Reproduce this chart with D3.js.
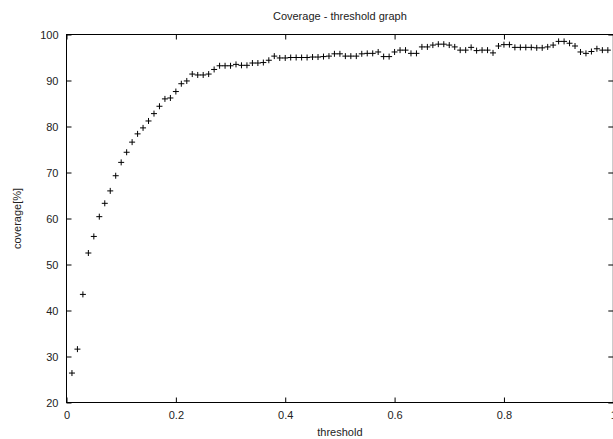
<html>
<head>
<script src="https://d3js.org/d3.v7.min.js"></script>
<style>
  body { margin: 0; background: #fff; }
  text { font-family: "Liberation Sans", Arial, sans-serif; fill: #222; }
</style>
</head>
<body>
<svg width="613" height="439"></svg>
<script>
const thresholds = [0.01,0.02,0.03,0.04,0.05,0.06,0.07,0.08,0.09,0.10,
  0.11,0.12,0.13,0.14,0.15,0.16,0.17,0.18,0.19,0.20,
  0.21,0.22,0.23,0.24,0.25,0.26,0.27,0.28,0.29,0.30,
  0.31,0.32,0.33,0.34,0.35,0.36,0.37,0.38,0.39,0.40,
  0.41,0.42,0.43,0.44,0.45,0.46,0.47,0.48,0.49,0.50,
  0.51,0.52,0.53,0.54,0.55,0.56,0.57,0.58,0.59,0.60,
  0.61,0.62,0.63,0.64,0.65,0.66,0.67,0.68,0.69,0.70,
  0.71,0.72,0.73,0.74,0.75,0.76,0.77,0.78,0.79,0.80,
  0.81,0.82,0.83,0.84,0.85,0.86,0.87,0.88,0.89,0.90,
  0.91,0.92,0.93,0.94,0.95,0.96,0.97,0.98,0.99]
const coverage = [26.4,31.6,43.5,52.5,56.1,60.4,63.3,66.0,69.3,72.2,
  74.4,76.6,78.4,79.7,81.2,82.8,84.4,86.0,86.2,87.6,
  89.3,89.9,91.4,91.2,91.2,91.4,92.4,93.2,93.2,93.2,
  93.5,93.3,93.3,93.8,93.8,93.9,94.4,95.3,94.9,94.9,
  95.0,95.0,95.0,95.0,95.1,95.1,95.2,95.3,95.8,95.8,
  95.3,95.3,95.3,95.8,95.9,95.9,96.2,95.2,95.2,96.2,
  96.6,96.6,95.9,95.9,97.3,97.3,97.7,97.9,97.9,97.7,
  97.3,96.6,96.6,97.2,96.5,96.6,96.6,96.0,97.5,97.8,
  97.8,97.2,97.2,97.2,97.2,97.1,97.1,97.3,97.7,98.5,
  98.5,98.1,97.5,96.2,95.9,96.3,96.9,96.6,96.6]
const xTicks = [0, 0.2, 0.4, 0.6, 0.8, 1]
const yTicks = [20, 30, 40, 50, 60, 70, 80, 90, 100]

const plotL = 66.5, plotR = 613.3, plotT = 34.5, plotB = 402.5
const svg = d3.select("svg")
var x = d3.scaleLinear().domain([0, 1]).range([plotL, plotR])
var y = d3.scaleLinear().domain([20, 100]).range([plotB, plotT])
const fmt = d3.format("~g")

// bottom axis, ticks pointing inward
svg.append("g")
  .attr("transform", "translate(0," + plotB + ")")
  .call(d3.axisBottom(x).tickValues(xTicks).tickSize(-5).tickPadding(8.5).tickFormat(fmt))
  .call(g => g.select(".domain").remove())
// left axis
svg.append("g")
  .attr("transform", "translate(" + plotL + ",0)")
  .call(d3.axisLeft(y).tickValues(yTicks).tickSize(-5).tickPadding(8).tickFormat(fmt))
  .call(g => g.select(".domain").remove())
// mirror ticks top and right
svg.append("g")
  .attr("transform", "translate(0," + plotT + ")")
  .call(d3.axisTop(x).tickValues(xTicks).tickSize(-5).tickFormat(""))
  .call(g => g.select(".domain").remove())
svg.append("g")
  .attr("transform", "translate(" + plotR + ",0)")
  .call(d3.axisRight(y).tickValues(yTicks).tickSize(-5).tickFormat(""))
  .call(g => g.select(".domain").remove())

svg.selectAll(".tick text")
  .style("font-family", "'Liberation Sans', Arial, sans-serif")
  .style("font-size", "11px")
  .attr("fill", "#222")

// frame
svg.append("rect")
  .attr("x", plotL).attr("y", plotT)
  .attr("width", plotR - plotL).attr("height", plotB - plotT)
  .attr("fill", "none").attr("stroke", "#000").attr("stroke-width", 1)

// points
svg.append("g").selectAll("path").data(coverage).enter().append("path")
  .attr("transform", function(d, i){ return "translate(" + x(thresholds[i]) + "," + y(d) + ")" })
  .attr("d", "M-3,0H3M0,-3V3")
  .attr("stroke", "#000")
  .attr("stroke-width", 1)

// title and labels
svg.append("text")
  .attr("x", (plotL + plotR) / 2).attr("y", 20)
  .attr("text-anchor", "middle").style("font-size", "11px")
  .text("Coverage - threshold graph")
svg.append("text")
  .attr("x", (plotL + plotR) / 2).attr("y", 436)
  .attr("text-anchor", "middle").style("font-size", "11px")
  .text("threshold")
svg.append("text")
  .attr("transform", "translate(21," + (plotT + plotB) / 2 + ") rotate(-90)")
  .attr("text-anchor", "middle").style("font-size", "11px")
  .text("coverage[%]")
</script>
</body>
</html>
